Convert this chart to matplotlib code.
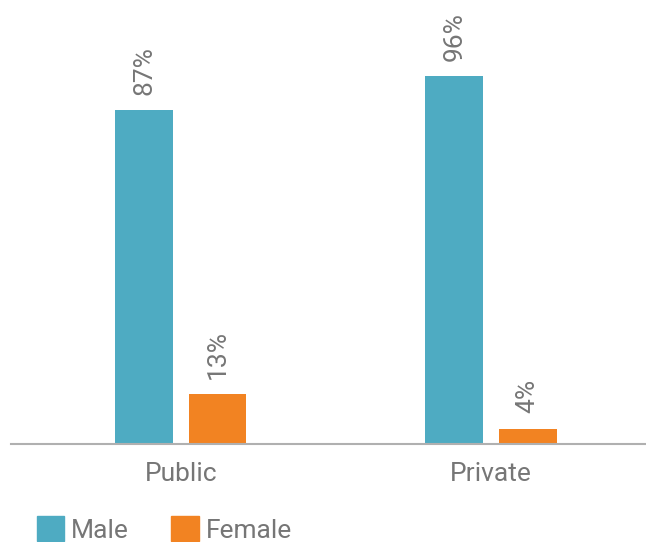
import matplotlib.pyplot as plt
from matplotlib.patches import Patch
import numpy as np

plt.rcParams['font.family'] = ['Roboto', 'DejaVu Sans']

sectors = ['Public', 'Private']
male = [87, 96]
female = [13, 4]
series = ['Male', 'Female']
colors = ['#4EABC2', '#F28322']
text_color = '#767676'

fig = plt.figure(figsize=(6.46, 5.42), dpi=100)
ax = fig.add_axes([11 / 646, 98 / 542, 635 / 646, 383.5 / 542])

x = np.arange(len(sectors))
w = 0.187
off = 0.118
b1 = ax.bar(x - off, male, w, color=colors[0])
b2 = ax.bar(x + off, female, w, color=colors[1])

for bars, vals in [(b1, male), (b2, female)]:
    for b, v in zip(bars, vals):
        ax.annotate(f'{v}%', (b.get_x() + b.get_width() / 2, v),
                    xytext=(0, 11), textcoords='offset points',
                    rotation=90, ha='center', va='bottom',
                    fontsize=19, color=text_color, annotation_clip=False)

ax.set_xlim(-0.548, 1.5)
ax.set_ylim(0, 100)
ax.set_xticks(x)
ax.set_xticklabels(sectors, fontsize=19, color=text_color)
ax.tick_params(axis='x', length=0, pad=13)
ax.set_yticks([])
for s in ['top', 'right', 'left']:
    ax.spines[s].set_visible(False)
ax.spines['bottom'].set_color('#B0B0B0')
ax.spines['bottom'].set_linewidth(1.5)

handles = [Patch(color=c, label=l) for c, l in zip(colors, series)]
fig.legend(handles=handles, loc='lower left', bbox_to_anchor=(0.02, -0.045),
           ncol=2, frameon=False, fontsize=19, labelcolor=text_color,
           handlelength=1.05, handleheight=1.05, handletextpad=0.25,
           columnspacing=1.6)

fig.savefig('out.png', dpi=100)
